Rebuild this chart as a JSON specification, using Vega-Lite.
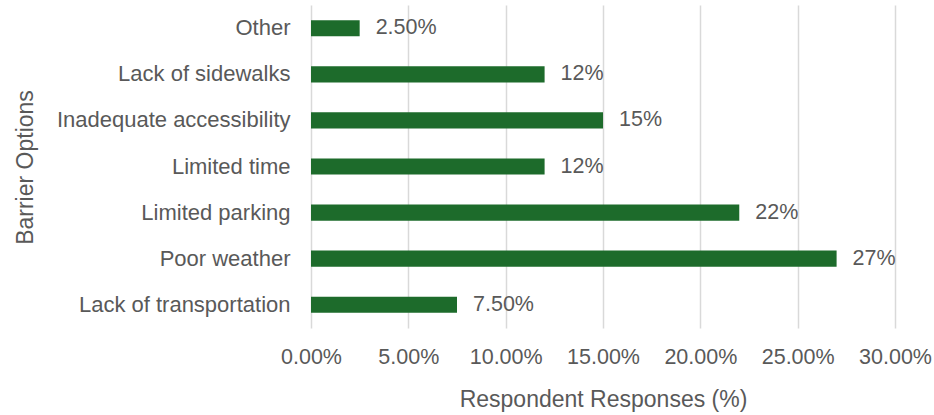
{
  "$schema": "https://vega.github.io/schema/vega-lite/v6.json",
  "width": 584,
  "height": 323,
  "autosize": "none",
  "padding": {"left": 311, "top": 5, "right": 39, "bottom": 87},
  "background": "white",
  "data": {
    "values": [
      {"barrier": "Other", "share": 0.025, "label": "2.50%"},
      {"barrier": "Lack of sidewalks", "share": 0.12, "label": "12%"},
      {"barrier": "Inadequate accessibility", "share": 0.15, "label": "15%"},
      {"barrier": "Limited time", "share": 0.12, "label": "12%"},
      {"barrier": "Limited parking", "share": 0.22, "label": "22%"},
      {"barrier": "Poor weather", "share": 0.27, "label": "27%"},
      {"barrier": "Lack of transportation", "share": 0.075, "label": "7.50%"}
    ]
  },
  "encoding": {
    "y": {
      "field": "barrier",
      "type": "nominal",
      "sort": null,
      "scale": {"paddingInner": 0.65, "paddingOuter": 0.33},
      "axis": {
        "title": "Barrier Options",
        "titleFontSize": 23,
        "titleFontWeight": "normal",
        "titleColor": "#595959",
        "titleX": -286,
        "titleY": 162,
        "titleAngle": -90,
        "titleAlign": "center",
        "titleBaseline": "middle",
        "labelFontSize": 22,
        "labelColor": "#595959",
        "labelPadding": 21,
        "labelLimit": 300,
        "ticks": false,
        "domain": false
      }
    },
    "x": {
      "field": "share",
      "type": "quantitative",
      "scale": {"domain": [0, 0.3], "nice": false},
      "axis": {
        "title": "Respondent Responses (%)",
        "format": ".2%",
        "values": [0, 0.05, 0.1, 0.15, 0.2, 0.25, 0.3],
        "titleFontSize": 23,
        "titleFontWeight": "normal",
        "titleColor": "#595959",
        "titlePadding": 21,
        "labelFontSize": 21.5,
        "labelColor": "#595959",
        "labelPadding": 18,
        "labelOverlap": false,
        "labelFlush": false,
        "ticks": false,
        "domain": false,
        "grid": true,
        "gridColor": "#d9d9d9",
        "gridWidth": 1.5
      }
    }
  },
  "layer": [
    {"mark": {"type": "bar", "color": "#1d6b2b"}},
    {
      "mark": {"type": "text", "align": "left", "dx": 16, "fontSize": 21.5, "color": "#595959"},
      "encoding": {"text": {"field": "label"}}
    }
  ],
  "config": {
    "font": "Liberation Sans",
    "view": {"stroke": null}
  }
}
